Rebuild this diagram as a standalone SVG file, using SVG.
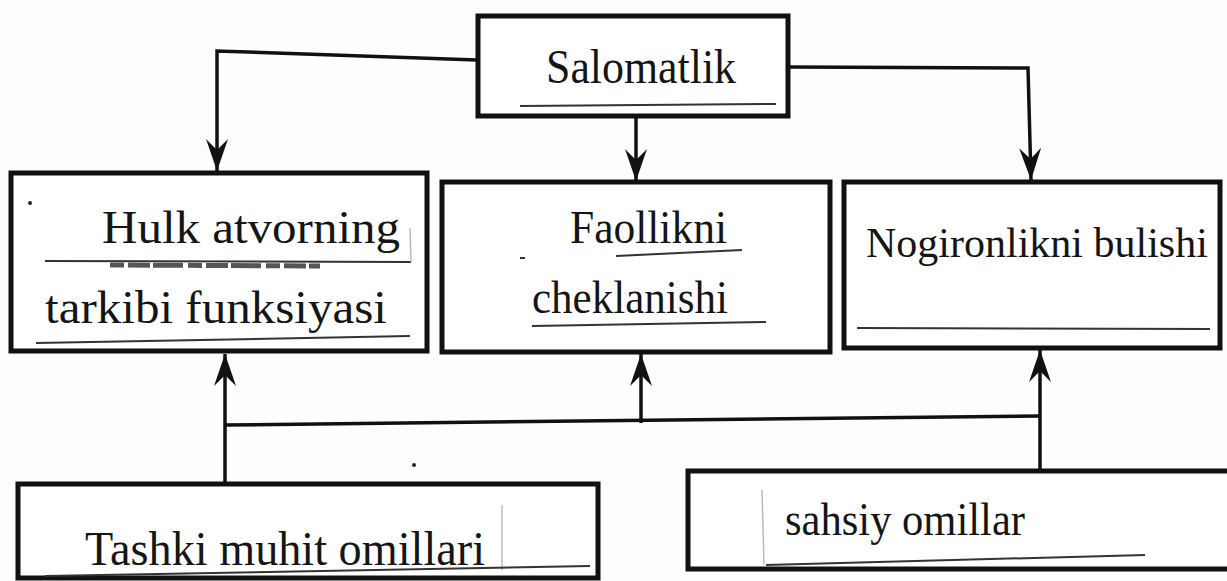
<svg xmlns="http://www.w3.org/2000/svg" width="1227" height="581" viewBox="0 0 1227 581">
<style>
.box{fill:#fff;stroke:#111;stroke-width:5}
.t{font-family:"Liberation Serif","Times New Roman",serif;fill:#151515}
.ul{stroke:#333;stroke-width:2;fill:none}
.edge{stroke:#bbb;stroke-width:1.5;fill:none}
.c{stroke:#111;stroke-width:3.5;fill:none}
</style>
<defs>
<marker id="ah" markerUnits="userSpaceOnUse" markerWidth="36" markerHeight="26" viewBox="-34 -13 36 26" refX="0" refY="0" orient="auto">
<path d="M0,0 L-32,-11 L-21,0 L-32,11 Z" fill="#111"/>
</marker>
</defs>
<rect width="1227" height="581" fill="#fdfdfd"/>
<g id="connectors">
<path class="c" d="M477,60 L217,51 L217,171" marker-end="url(#ah)"/>
<path class="c" d="M636,117 L636,181" marker-end="url(#ah)"/>
<path class="c" d="M789,67 L1028,68 L1031,180" marker-end="url(#ah)"/>
<path class="c" d="M225,484 L225,354" marker-end="url(#ah)"/>
<path class="c" d="M225,425 L1040,416"/>
<path class="c" d="M641,423 L641,354" marker-end="url(#ah)"/>
<path class="c" d="M1040,471 L1040,350" marker-end="url(#ah)"/>
</g>
<g id="salomatlik">
<rect class="box" x="478" y="16" width="310" height="100"/>
<text class="t" x="546" y="83" font-size="48" textLength="190" lengthAdjust="spacingAndGlyphs">Salomatlik</text>
<path class="ul" d="M520,106 L776,104" stroke-width="3"/>
</g>
<g id="hulk">
<rect class="box" x="11" y="173" width="416" height="178"/>
<text class="t" x="102" y="243" font-size="46" textLength="298" lengthAdjust="spacingAndGlyphs">Hulk  atvorning</text>
<text class="t" x="45" y="323" font-size="46" textLength="342" lengthAdjust="spacingAndGlyphs">tarkibi  funksiyasi</text>
<path class="ul" d="M45,261 L411,262"/>
<path d="M110,265 L320,266" stroke="#555" stroke-width="5" stroke-dasharray="14 4 22 3 30 5" fill="none"/>
<path class="edge" d="M410,228 L411,262"/>
<path class="ul" d="M36,343 L410,336"/>
<circle cx="30" cy="203" r="2" fill="#222"/>
</g>
<g id="faollik">
<rect class="box" x="442" y="182" width="388" height="170"/>
<text class="t" x="570" y="243" font-size="46" textLength="157" lengthAdjust="spacingAndGlyphs">Faollikni</text>
<text class="t" x="532" y="313" font-size="46" textLength="196" lengthAdjust="spacingAndGlyphs">cheklanishi</text>
<path class="ul" d="M616,256 L742,250" stroke-width="1.5"/>
<path class="ul" d="M520,258 L525,258" stroke-width="1.5"/>
<path class="ul" d="M532,326 L766,322" stroke-width="3"/>
</g>
<g id="nogironlik">
<rect class="box" x="844" y="182" width="376" height="166"/>
<text class="t" x="866" y="257" font-size="42">Nogironlikni bulishi</text>
<path class="ul" d="M857,328 L1210,329" stroke-width="1.5"/>
</g>
<g id="tashki">
<rect class="box" x="18" y="484" width="580" height="94"/>
<text class="t" x="85" y="565" font-size="48" textLength="400" lengthAdjust="spacingAndGlyphs">Tashki muhit omillari</text>
<path class="edge" d="M502,505 L502,570"/>
<path class="ul" d="M45,576 L590,566"/>
<circle cx="414" cy="465" r="2" fill="#222"/>
</g>
<g id="sahsiy">
<rect class="box" x="688" y="471" width="560" height="98"/>
<text class="t" x="785" y="535" font-size="46" textLength="240" lengthAdjust="spacingAndGlyphs">sahsiy omillar</text>
<path class="edge" d="M762,490 L764,565"/>
<path class="ul" d="M766,565 L1145,555" stroke-width="1.5"/>
</g>
</svg>
